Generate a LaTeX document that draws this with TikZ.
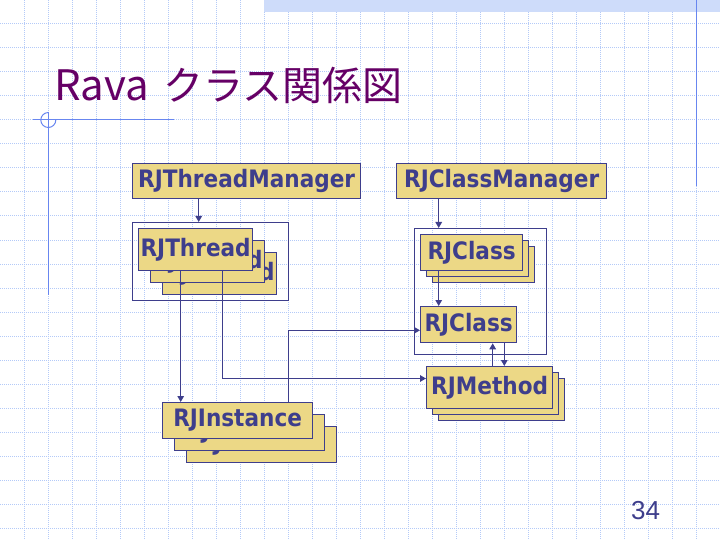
\documentclass[tikz,border=0pt]{standalone}
\usepackage{fontspec}
\setmainfont{DejaVu Sans}
\newfontfamily\boxfont[FakeStretch=0.9]{DejaVu Sans}
\newfontfamily\jpfont{Noto Sans CJK JP}
\newfontfamily\numfont{Liberation Sans}
\usetikzlibrary{arrows.meta}
\definecolor{dblue}{RGB}{62,62,140}
\definecolor{sand}{RGB}{236,216,134}
\definecolor{gridc}{RGB}{180,202,248}
\definecolor{linec}{RGB}{104,134,240}
\definecolor{bandc}{RGB}{206,220,250}
\definecolor{titlec}{RGB}{102,0,102}
\begin{document}
\begin{tikzpicture}[x=1pt,y=-1pt,
 cbox/.style={draw=dblue,fill=sand,line width=1.3pt,inner sep=0pt,anchor=north west,text=dblue,font=\boxfont\bfseries\fontsize{24}{24}\selectfont},
 cont/.style={draw=dblue,line width=1.3pt,inner sep=0pt,anchor=north west},
 conn/.style={draw=dblue,line width=1.3pt},
 arr/.style={conn,-{Triangle[width=6.5pt,length=6pt]}},
 gridl/.style={draw=gridc,line width=1pt,dash pattern=on 1pt off 1pt},
 frame/.style={draw=linec,line width=1.4pt}]
\useasboundingbox (0,0) rectangle (720,540);
\fill[white] (0,0) rectangle (720,540);
% grid
\foreach \i in {1,...,29} \draw[gridl] (24*\i,0) -- (24*\i,540);
\foreach \j in {1,...,22} \draw[gridl] (0,24*\j) -- (720,24*\j);
% band and frame lines
\fill[bandc] (264,0) rectangle (720,12);
\draw[frame] (696.5,0) -- (696.5,186);
\draw[frame] (33,119.5) -- (173.5,119.5);
\draw[frame] (48.3,112) -- (48.3,295);
\draw[draw=linec,line width=1pt] (48.3,112.5) arc[start angle=270,end angle=0,radius=7.5];
% title
\node[anchor=base west,inner sep=0pt,text=titlec,font=\jpfont\fontsize{42}{42}\selectfont] (t1) at (54,101) {Rava};
\node[anchor=base west,inner sep=0pt,text=titlec,font=\jpfont\fontsize{40}{40}\selectfont] (t2) at (163,101) {クラス関係図};
% managers
\node[cbox,minimum width=228pt,minimum height=35pt] (tm) at (132,163) {RJThreadManager};
\node[cbox,minimum width=210pt,minimum height=35pt] (cm) at (396,163) {RJClassManager};
% thread container and stack
\node[cont,minimum width=156pt,minimum height=78pt] (tcont) at (132,222) {};
\node[cbox,minimum width=114pt,minimum height=42pt] (ts3) at (162,252) {RJThread};
\node[cbox,minimum width=114pt,minimum height=42pt] (ts2) at (150,240) {RJThread};
\node[cbox,minimum width=114pt,minimum height=42pt] (ts1) at (138,228) {RJThread};
% class container
\node[cont,minimum width=132pt,minimum height=126pt] (ccont) at (414,228) {};
\node[cbox,minimum width=102pt,minimum height=36pt] (cs3) at (432,246) {RJClass};
\node[cbox,minimum width=102pt,minimum height=36pt] (cs2) at (426,240) {RJClass};
\node[cbox,minimum width=102pt,minimum height=36pt] (cs1) at (420,234) {RJClass};
\node[cbox,minimum width=96pt,minimum height=36pt] (cl) at (420,306) {RJClass};
% method stack
\node[cbox,minimum width=126pt,minimum height=42pt] (ms3) at (438,378) {RJMethod};
\node[cbox,minimum width=126pt,minimum height=42pt] (ms2) at (432,372) {RJMethod};
\node[cbox,minimum width=126pt,minimum height=42pt] (ms1) at (426,366) {RJMethod};
% instance stack
\node[cbox,minimum width=150pt,minimum height=36pt] (is3) at (186,426) {RJInstance};
\node[cbox,minimum width=150pt,minimum height=36pt] (is2) at (174,414) {RJInstance};
\node[cbox,minimum width=150pt,minimum height=36pt] (is1) at (162,402) {RJInstance};
% connectors
\draw[arr] ([xshift=66.7pt]tm.south west) -- ([xshift=66.7pt]tcont.north west);
\draw[arr] ([xshift=42.7pt]cm.south west) -- ([xshift=24.7pt]ccont.north west);
\draw[arr] ([xshift=18.7pt]cs1.south west) -- ([xshift=18.7pt]cl.north west);
\draw[arr] ([xshift=42.7pt]ts1.south west) -- ([xshift=18.7pt]is1.north west);
\draw[arr] ([xshift=84.3pt]ts1.south west) |- ([yshift=-12.5pt]ms1.north west);
\draw[arr] ([xshift=126.3pt]is1.north west) |- ([yshift=-24.3pt]cl.north west);
\draw[arr] ([xshift=66.7pt]ms1.north west) -- ([xshift=72.7pt]cl.south west);
\draw[arr] ([xshift=84.3pt]cl.south west) -- ([xshift=78.3pt]ms1.north west);
% page number
\node[anchor=base,inner sep=0pt,text=dblue,font=\numfont\fontsize{26}{26}\selectfont] (pn) at (645.5,519.3) {34};
\end{tikzpicture}
\end{document}
